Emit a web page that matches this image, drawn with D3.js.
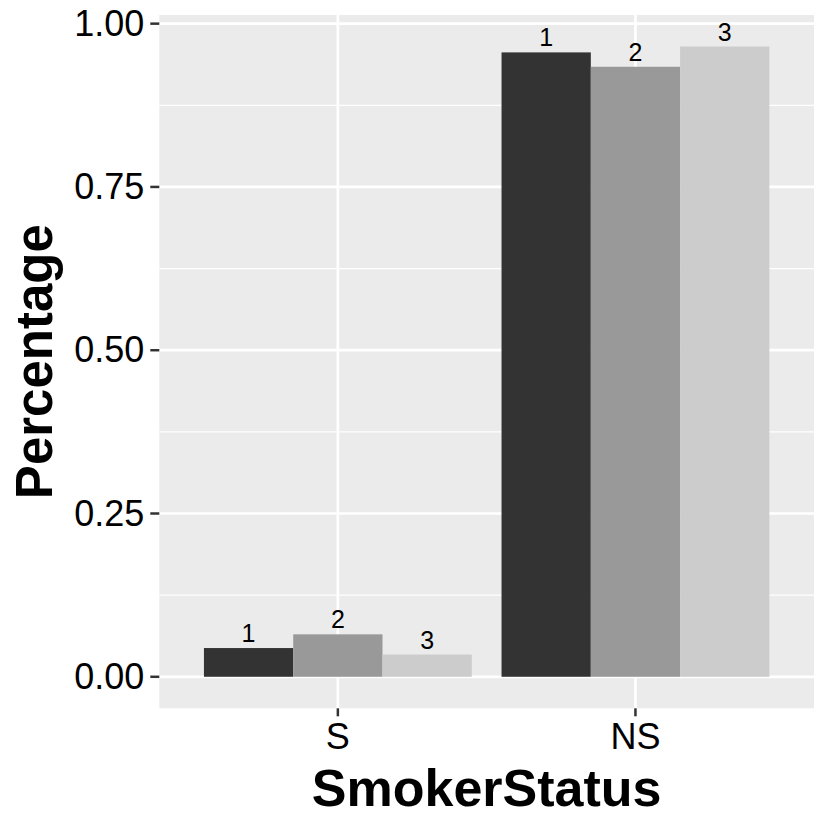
<!DOCTYPE html>
<html>
<head>
<meta charset="utf-8">
<script src="https://cdn.jsdelivr.net/npm/d3@7"></script>
<style>
  body { margin: 0; background: #fff; }
  text { font-family: "Liberation Sans", Arial, Helvetica, sans-serif; fill: #000; }
</style>
</head>
<body>
<svg id="chart" width="830" height="830"></svg>
<script>
// data
let statuses = ["S", "NS"];
let groups = ["1", "2", "3"];
let valuesS = [0.044, 0.065, 0.034];
let valuesNS = [0.956, 0.934, 0.965];
let yTicks = [0, 0.25, 0.5, 0.75, 1];
let yMinor = [0.125, 0.375, 0.625, 0.875];
let fills = ["#333333", "#999999", "#CCCCCC"];

let rows = [];
statuses.forEach(function(s, i) {
    let vals = i == 0 ? valuesS : valuesNS;
    groups.forEach(function(g, j) {
        rows.push({status: s, group: g, value: vals[j]});
    });
});

let panel = {left: 159.3, right: 814, top: 15, bottom: 708.3};

let svg = d3.select("#chart");

// continuous y with ggplot-like 5% expansion
let yMax = d3.max(rows, function(d) { return d.value; });
let y = d3.scaleLinear()
    .domain([-0.05 * yMax, yMax * 1.05])
    .range([panel.bottom, panel.top]);

// discrete x: 0.6 expansion each side
let xc = d3.scaleLinear()
    .domain([0.4, statuses.length + 0.6])
    .range([panel.left, panel.right]);
let barW = (xc(1.9) - xc(1)) / groups.length;

svg.append("rect")
    .attr("x", panel.left).attr("y", panel.top)
    .attr("width", panel.right - panel.left)
    .attr("height", panel.bottom - panel.top)
    .attr("fill", "#EBEBEB");

// grid
svg.selectAll("line.minor").data(yMinor).enter().append("line")
    .attr("x1", panel.left).attr("x2", panel.right)
    .attr("y1", function(d) { return y(d); }).attr("y2", function(d) { return y(d); })
    .attr("stroke", "#fff").attr("stroke-width", 1.3);

svg.selectAll("line.major").data(yTicks).enter().append("line")
    .attr("x1", panel.left).attr("x2", panel.right)
    .attr("y1", function(d) { return y(d); }).attr("y2", function(d) { return y(d); })
    .attr("stroke", "#fff").attr("stroke-width", 2.7);

svg.selectAll("line.vmajor").data(statuses).enter().append("line")
    .attr("x1", function(d, i) { return xc(i + 1); })
    .attr("x2", function(d, i) { return xc(i + 1); })
    .attr("y1", panel.top).attr("y2", panel.bottom)
    .attr("stroke", "#fff").attr("stroke-width", 2.7);

// bars
function barX(d) {
    let i = statuses.indexOf(d.status);
    let j = groups.indexOf(d.group);
    return xc(i + 1) - 1.5 * barW + j * barW;
}

svg.selectAll("rect.bar").data(rows).enter().append("rect")
    .attr("x", barX)
    .attr("y", function(d) { return y(d.value); })
    .attr("width", barW)
    .attr("height", function(d) { return y(0) - y(d.value); })
    .attr("fill", function(d) { return fills[groups.indexOf(d.group)]; });

svg.selectAll("text.lab").data(rows).enter().append("text")
    .attr("x", function(d) { return barX(d) + barW / 2; })
    .attr("y", function(d) { return y(d.value) - 6; })
    .attr("text-anchor", "middle")
    .attr("font-size", 25)
    .text(function(d) { return d.group; });

// y axis ticks
svg.selectAll("line.ytick").data(yTicks).enter().append("line")
    .attr("x1", panel.left - 9).attr("x2", panel.left)
    .attr("y1", function(d) { return y(d); }).attr("y2", function(d) { return y(d); })
    .attr("stroke", "#333").attr("stroke-width", 2.5);

svg.selectAll("text.ytick").data(yTicks).enter().append("text")
    .attr("x", panel.left - 15)
    .attr("y", function(d) { return y(d) + 12; })
    .attr("text-anchor", "end")
    .attr("font-size", 36)
    .text(function(d) { return d3.format(".2f")(d); });

// x axis ticks
svg.selectAll("line.xtick").data(statuses).enter().append("line")
    .attr("x1", function(d, i) { return xc(i + 1); })
    .attr("x2", function(d, i) { return xc(i + 1); })
    .attr("y1", panel.bottom).attr("y2", panel.bottom + 8)
    .attr("stroke", "#333").attr("stroke-width", 2.5);

svg.selectAll("text.xtick").data(statuses).enter().append("text")
    .attr("x", function(d, i) { return xc(i + 1); })
    .attr("y", 749)
    .attr("text-anchor", "middle")
    .attr("font-size", 36)
    .text(function(d) { return d; });

// axis titles
svg.append("text")
    .attr("x", (panel.left + panel.right) / 2)
    .attr("y", 806)
    .attr("text-anchor", "middle")
    .attr("font-size", 52)
    .attr("font-weight", "bold")
    .text("SmokerStatus");

svg.append("text")
    .attr("transform", "translate(52," + ((panel.top + panel.bottom) / 2) + ") rotate(-90)")
    .attr("text-anchor", "middle")
    .attr("font-size", 51)
    .attr("font-weight", "bold")
    .text("Percentage");
</script>
</body>
</html>
